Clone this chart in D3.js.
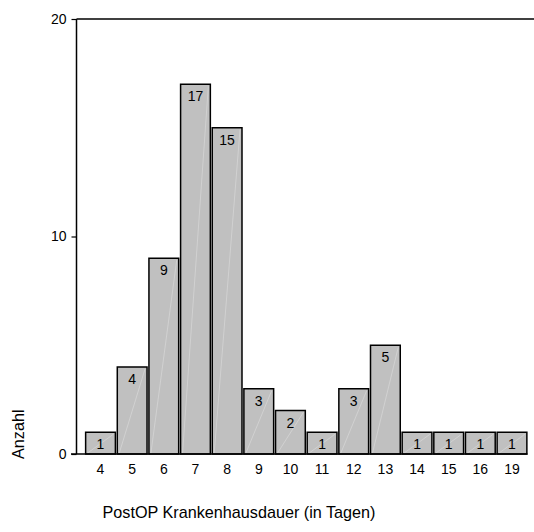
<!DOCTYPE html>
<html><head><meta charset="utf-8">
<script src="https://cdn.jsdelivr.net/npm/d3@7"></script>
<style>body{margin:0;background:#fff}svg{display:block}text{font-family:"Liberation Sans",Arial,sans-serif;fill:#000}</style>
</head><body>
<svg id="c" width="534" height="532"></svg>
<script>
const categories = ["4","5","6","7","8","9","10","11","12","13","14","15","16","19"];
const counts = [1,4,9,17,15,3,2,1,3,5,1,1,1,1];
const yTicks = [0,10,20];
const xTitle = "PostOP Krankenhausdauer (in Tagen)";
const yTitle = "Anzahl";
const FF = "'Liberation Sans', Arial, sans-serif";

const svg = d3.select("#c");
const x = d3.scaleBand().domain(categories).range([85, 527.5]).paddingInner(0.06).paddingOuter(0.02);
const y = d3.scaleLinear().domain([0,20]).range([454,19]);

svg.append("line").attr("x1",76.5).attr("x2",534).attr("y1",y(20)).attr("y2",y(20)).attr("stroke","#000").attr("stroke-width",1.5);

const g = svg.append("g");
const bars = g.selectAll("g.bar").data(categories.map((c,i)=>({c,v:counts[i]}))).join("g");
bars.append("rect")
  .attr("x",d=>x(d.c)).attr("width",x.bandwidth())
  .attr("y",d=>y(d.v)).attr("height",d=>y(0)-y(d.v))
  .attr("fill","#c0c0c0").attr("stroke","#000").attr("stroke-width",1.5);
bars.append("line")
  .attr("x1",d=>x(d.c)+2).attr("y1",y(0)-1)
  .attr("x2",d=>x(d.c)+x.bandwidth()-2).attr("y2",d=>y(d.v)+2)
  .attr("stroke","#fff").attr("stroke-opacity",0.45).attr("stroke-width",0.6);
bars.append("text")
  .attr("x",d=>x(d.c)+x.bandwidth()/2).attr("y",d=>y(d.v)+17)
  .attr("text-anchor","middle").attr("font-size",14).attr("font-family",FF).text(d=>d.v);

const ya = svg.append("g").attr("transform","translate(76.5,0)")
  .call(d3.axisLeft(y).tickValues(yTicks).tickSize(5).tickPadding(5));
ya.select(".domain").attr("stroke-width",1.5).attr("d",`M0,${y(0)}V${y(20)}`);
ya.selectAll(".tick line").attr("stroke-width",1.2);
ya.selectAll(".tick text").attr("font-size",14).attr("font-family",FF).attr("fill","#000");

const xa = svg.append("g").attr("transform",`translate(0,${y(0)})`)
  .call(d3.axisBottom(x).tickSize(0).tickPadding(10));
xa.select(".domain").attr("stroke-width",1.5).attr("d",`M71,0H527.5`);
xa.selectAll(".tick text").attr("font-size",14).attr("font-family",FF).attr("fill","#000");

svg.append("text").attr("x",239).attr("y",518).attr("text-anchor","middle").attr("font-size",16.2).attr("font-family",FF).text(xTitle);
svg.append("text").attr("transform","translate(24,459) rotate(-90)").attr("text-anchor","start").attr("font-size",16.2).attr("font-family",FF).text(yTitle);
</script>
</body></html>
